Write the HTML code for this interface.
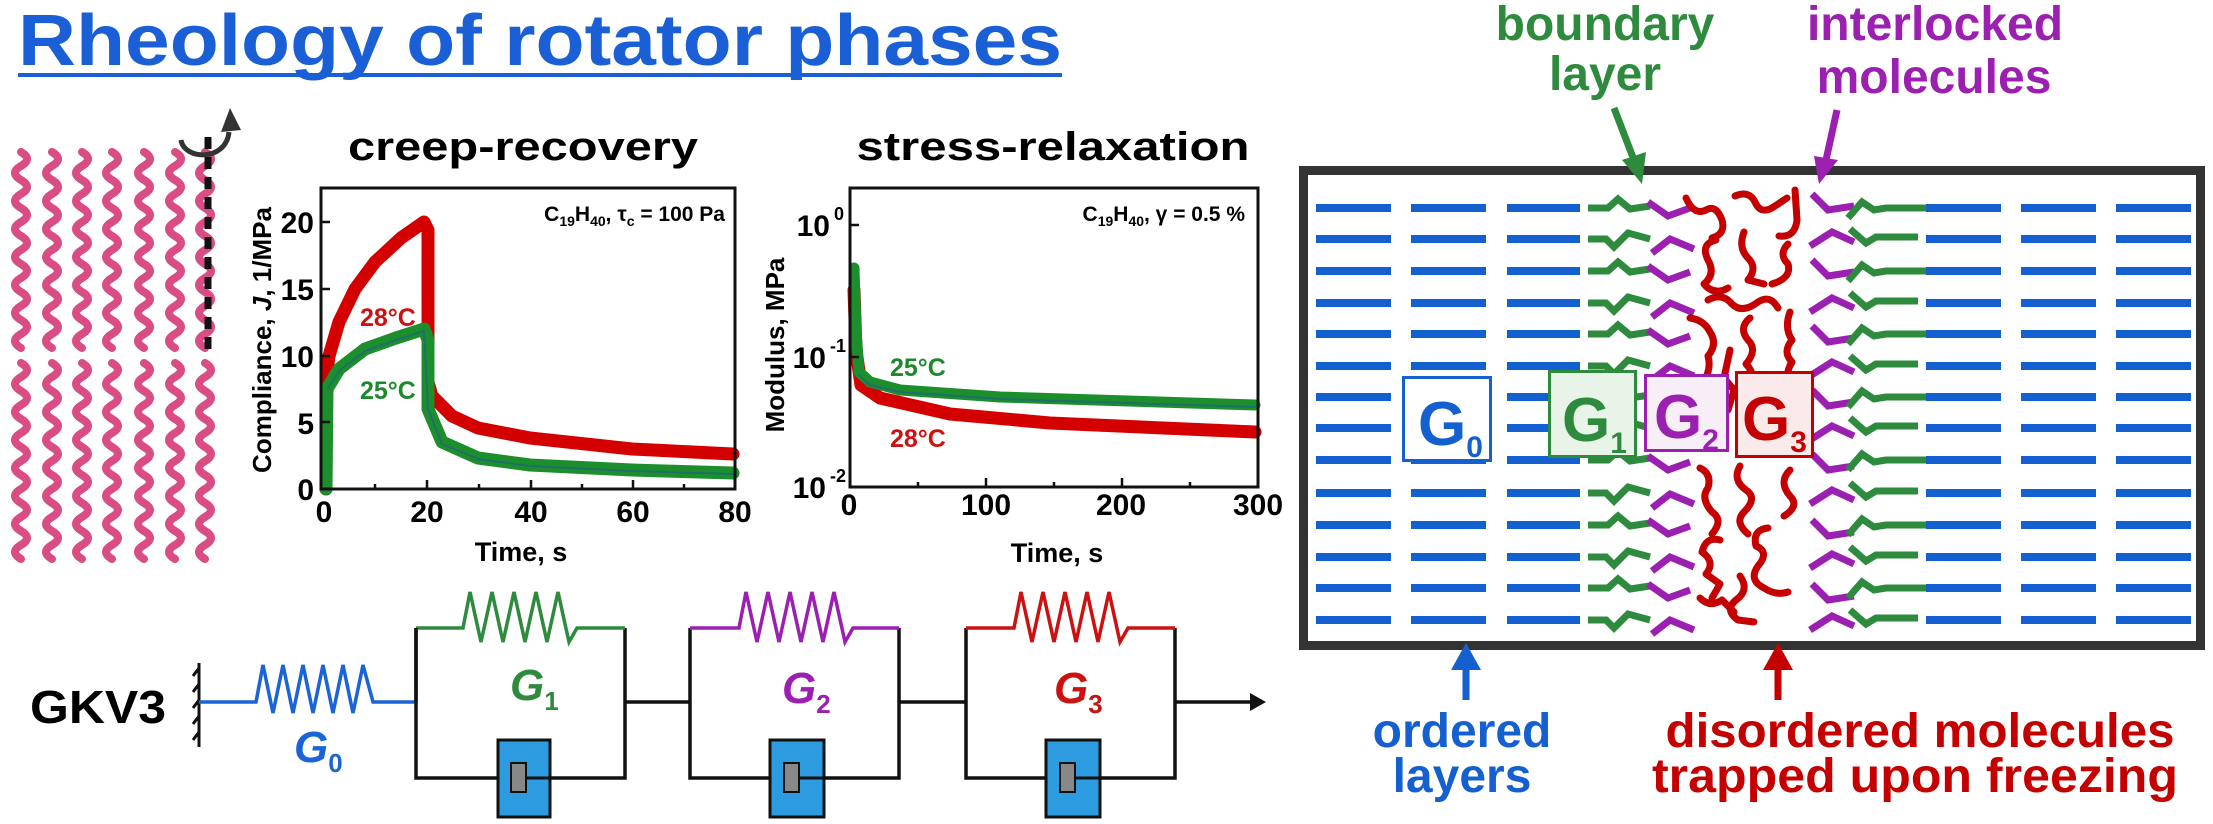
<!DOCTYPE html>
<html><head><meta charset="utf-8"><style>
html,body{margin:0;padding:0;background:#fff;}
svg{display:block;font-family:"Liberation Sans",Arial,sans-serif;}
</style></head><body>
<svg width="2213" height="824" viewBox="0 0 2213 824" xmlns="http://www.w3.org/2000/svg">
<defs>
 <path id="wave" d="M0,0 q12,7 0,14 t0,14 t0,14 t0,14 t0,14 t0,14 t0,14 t0,14 t0,14 t0,14 t0,14 t0,14 t0,14 t0,14" fill="none" stroke="#d94d84" stroke-width="8" stroke-linecap="round"/>
 <path id="gA" d="M1588,0 h20 l10,-9 l12,10 l20,-3" fill="none" stroke="#2e8b3e" stroke-width="7"/>
 <path id="gB" d="M1588,0 h18 l8,8 l14,-14 l22,6" fill="none" stroke="#2e8b3e" stroke-width="7"/>
 <path id="pA" d="M1648,-12 l20,14 l22,-8" fill="none" stroke="#9b1fb0" stroke-width="7"/>
 <path id="pB" d="M1652,8 l18,-14 l24,10" fill="none" stroke="#9b1fb0" stroke-width="7"/>
 <path id="rpA" d="M1812,-10 l16,16 l26,-4" fill="none" stroke="#9b1fb0" stroke-width="7"/>
 <path id="rpB" d="M1810,6 l22,-14 l22,10" fill="none" stroke="#9b1fb0" stroke-width="7"/>
 <path id="rgA" d="M1848,10 l14,-16 l12,8 l12,-2 h40" fill="none" stroke="#2e8b3e" stroke-width="7"/>
 <path id="rgB" d="M1850,-10 l16,14 l10,-6 h42" fill="none" stroke="#2e8b3e" stroke-width="7"/>
 <g id="dashL" stroke="#1560d0" stroke-width="8"><line x1="1316" y1="0" x2="1391" y2="0"/><line x1="1411" y1="0" x2="1486" y2="0"/><line x1="1507" y1="0" x2="1580" y2="0"/></g>
 <g id="dashR" stroke="#1560d0" stroke-width="8"><line x1="1926" y1="0" x2="2001" y2="0"/><line x1="2021" y1="0" x2="2096" y2="0"/><line x1="2116" y1="0" x2="2191" y2="0"/></g>
</defs>

<!-- Title -->
<text x="18" y="65" font-size="72" font-weight="bold" fill="#1a5fd6" textLength="1044" lengthAdjust="spacingAndGlyphs">Rheology of rotator phases</text>
<rect x="18" y="73" width="1044" height="4" fill="#1a5fd6"/>

<!-- pink chains -->
<g>
 <use href="#wave" x="21" y="152"/><use href="#wave" x="52" y="152"/><use href="#wave" x="82" y="152"/><use href="#wave" x="112" y="152"/><use href="#wave" x="144" y="152"/><use href="#wave" x="175" y="152"/><use href="#wave" x="205" y="152"/>
 <use href="#wave" x="21" y="363"/><use href="#wave" x="52" y="363"/><use href="#wave" x="82" y="363"/><use href="#wave" x="112" y="363"/><use href="#wave" x="144" y="363"/><use href="#wave" x="175" y="363"/><use href="#wave" x="205" y="363"/>
</g>
<line x1="208" y1="137" x2="208" y2="357" stroke="#111" stroke-width="7" stroke-dasharray="12,8"/>
<path d="M181,140 C184,160 226,162 229,132" fill="none" stroke="#333" stroke-width="5"/>
<polygon points="221,132 241,130 230,108" fill="#333"/>

<!-- creep-recovery plot -->
<text x="523" y="160" font-size="40" font-weight="bold" text-anchor="middle" textLength="350" lengthAdjust="spacingAndGlyphs">creep-recovery</text>
<g fill="none" stroke-linecap="round" stroke-linejoin="round">
 <path d="M326,489 L326,382 L329,356 L339,322 L355,289 L375,262 L401,238 L424,222 L428,230 L428,382 L432,396 L452,416 L478,428 L530,438 L632,449 L733,454" stroke="#d40000" stroke-width="13"/>
 <path d="M326,489 L327,389 L339,369 L365,349 L396,338 L424,329 L428,340 L428,409 L442,442 L478,458 L530,465 L632,470 L733,473" stroke="#1c8f2c" stroke-width="13"/>
 <path d="M328,389 L339,371 L365,351 L396,340 L424,331 L428,409 L442,444 L478,459 L530,466 L632,471 L733,474" stroke="#1d6f6a" stroke-width="2"/>
</g>
<rect x="321" y="188" width="414" height="301" fill="none" stroke="#111" stroke-width="3"/>
<g stroke="#111" stroke-width="2.5">
 <line x1="427" y1="489" x2="427" y2="480"/><line x1="531" y1="489" x2="531" y2="480"/><line x1="633" y1="489" x2="633" y2="480"/>
 <line x1="375" y1="489" x2="375" y2="484"/><line x1="479" y1="489" x2="479" y2="484"/><line x1="582" y1="489" x2="582" y2="484"/><line x1="684" y1="489" x2="684" y2="484"/>
 <line x1="321" y1="222" x2="330" y2="222"/><line x1="321" y1="289" x2="330" y2="289"/><line x1="321" y1="356" x2="330" y2="356"/><line x1="321" y1="422" x2="330" y2="422"/>
</g>
<g font-size="30" font-weight="bold" text-anchor="end">
 <text x="314" y="233">20</text><text x="314" y="300">15</text><text x="314" y="367">10</text><text x="314" y="434">5</text><text x="314" y="500">0</text>
</g>
<g font-size="30" font-weight="bold" text-anchor="middle">
 <text x="324" y="522">0</text><text x="427" y="522">20</text><text x="531" y="522">40</text><text x="633" y="522">60</text><text x="735" y="522">80</text>
</g>
<text x="521" y="561" font-size="27" font-weight="bold" text-anchor="middle">Time, s</text>
<text transform="translate(271,340) rotate(-90)" font-size="26" font-weight="bold" text-anchor="middle">Compliance, <tspan font-style="italic">J</tspan>, 1/MPa</text>
<text x="725" y="221" font-size="21" font-weight="bold" text-anchor="end">C<tspan font-size="14" dy="5">19</tspan><tspan dy="-5">H</tspan><tspan font-size="14" dy="5">40</tspan><tspan dy="-5">, τ</tspan><tspan font-size="14" dy="5">c</tspan><tspan dy="-5"> = 100 Pa</tspan></text>
<text x="360" y="326" font-size="25" font-weight="bold" fill="#cc1111">28°C</text>
<text x="360" y="399" font-size="25" font-weight="bold" fill="#1c8a2c">25°C</text>

<!-- stress-relaxation plot -->
<text x="1053" y="160" font-size="40" font-weight="bold" text-anchor="middle" textLength="393" lengthAdjust="spacingAndGlyphs">stress-relaxation</text>
<g fill="none" stroke-linecap="round" stroke-linejoin="round">
 <path d="M854,290 L856,350 L861,385 L880,398 L950,414 L1050,423 L1255,432" stroke="#d40000" stroke-width="13"/>
 <path d="M854,268 L856,330 L859,372 L870,382 L900,390 L1000,397 L1255,405" stroke="#1c8f2c" stroke-width="11"/>
 <path d="M859,375 L870,385 L900,392 L1000,399 L1255,407" stroke="#1d6f6a" stroke-width="2"/>
</g>
<rect x="850" y="188" width="408" height="299" fill="none" stroke="#111" stroke-width="3"/>
<g stroke="#111" stroke-width="2.5">
 <line x1="986" y1="487" x2="986" y2="478"/><line x1="1122" y1="487" x2="1122" y2="478"/>
 <line x1="918" y1="487" x2="918" y2="482"/><line x1="1054" y1="487" x2="1054" y2="482"/><line x1="1190" y1="487" x2="1190" y2="482"/>
 <line x1="850" y1="225" x2="859" y2="225"/><line x1="850" y1="357" x2="859" y2="357"/>
</g>
<g font-size="30" font-weight="bold" text-anchor="end">
 <text x="830" y="236">10</text><text x="844" y="220" font-size="18">0</text>
 <text x="826" y="368">10</text><text x="846" y="352" font-size="18">-1</text>
 <text x="826" y="498">10</text><text x="846" y="482" font-size="18">-2</text>
</g>
<g font-size="30" font-weight="bold" text-anchor="middle">
 <text x="849" y="515">0</text><text x="986" y="515">100</text><text x="1121" y="515">200</text><text x="1258" y="515">300</text>
</g>
<text x="1057" y="562" font-size="27" font-weight="bold" text-anchor="middle">Time, s</text>
<text transform="translate(784,345) rotate(-90)" font-size="26" font-weight="bold" text-anchor="middle">Modulus, MPa</text>
<text x="1245" y="221" font-size="21" font-weight="bold" text-anchor="end">C<tspan font-size="14" dy="5">19</tspan><tspan dy="-5">H</tspan><tspan font-size="14" dy="5">40</tspan><tspan dy="-5">, γ = 0.5 %</tspan></text>
<text x="890" y="376" font-size="25" font-weight="bold" fill="#1c8a2c">25°C</text>
<text x="890" y="447" font-size="25" font-weight="bold" fill="#cc1111">28°C</text>

<!-- circuit -->
<text x="30" y="723" font-size="46" font-weight="bold" textLength="136" lengthAdjust="spacingAndGlyphs">GKV3</text>
<g stroke="#111" stroke-width="3" fill="none">
 <line x1="199" y1="663" x2="199" y2="747"/>
 <path d="M199,668 l-6,8 M199,684 l-6,8 M199,700 l-6,8 M199,716 l-6,8 M199,732 l-6,8"/>
</g>
<path d="M199,702 H256 L263,665 L273,713 L283,665 L293,713 L303,665 L313,713 L323,665 L333,713 L343,665 L353,713 L363,665 L373,702 H416" fill="none" stroke="#1a64d8" stroke-width="3.5"/>
<text x="294" y="762" font-size="44" font-weight="bold" font-style="italic" fill="#1a64d8">G<tspan font-size="26" dy="10" font-style="normal">0</tspan></text>

<g fill="none" stroke-width="3.5">
 <!-- box1 -->
 <path d="M416,628 V778 H625 V628" stroke="#111"/>
 <path d="M416,628 H463 L470,592 L481,642 L492,592 L503,642 L514,592 L525,642 L536,592 L547,642 L558,592 L569,642 L577,628 H625" stroke="#2e8b3e"/>
 <!-- box2 -->
 <path d="M690,628 V778 H899 V628" stroke="#111"/>
 <path d="M690,628 H739 L746,592 L757,642 L768,592 L779,642 L790,592 L801,642 L812,592 L823,642 L834,592 L845,642 L853,628 H899" stroke="#9b1fb0"/>
 <!-- box3 -->
 <path d="M966,628 V778 H1175 V628" stroke="#111"/>
 <path d="M966,628 H1014 L1021,592 L1032,642 L1043,592 L1054,642 L1065,592 L1076,642 L1087,592 L1098,642 L1109,592 L1120,642 L1128,628 H1175" stroke="#cc1111"/>
 <path d="M416,702 V628 M625,702 H690 M899,702 H966 M1175,702 H1252" stroke="#111"/>
</g>
<polygon points="1250,693 1266,702 1250,711" fill="#111"/>
<g>
 <rect x="498" y="740" width="52" height="77" fill="#2c9be0" stroke="#111" stroke-width="3"/>
 <rect x="511" y="763" width="15" height="29" fill="#888" stroke="#111" stroke-width="2"/>
 <line x1="526" y1="778" x2="550" y2="778" stroke="#111" stroke-width="3"/>
 <rect x="770" y="740" width="54" height="77" fill="#2c9be0" stroke="#111" stroke-width="3"/>
 <rect x="784" y="763" width="15" height="29" fill="#888" stroke="#111" stroke-width="2"/>
 <line x1="799" y1="778" x2="824" y2="778" stroke="#111" stroke-width="3"/>
 <rect x="1046" y="740" width="54" height="77" fill="#2c9be0" stroke="#111" stroke-width="3"/>
 <rect x="1060" y="763" width="15" height="29" fill="#888" stroke="#111" stroke-width="2"/>
 <line x1="1075" y1="778" x2="1100" y2="778" stroke="#111" stroke-width="3"/>
</g>
<text x="510" y="700" font-size="44" font-weight="bold" font-style="italic" fill="#2e8b3e">G<tspan font-size="26" dy="10" font-style="normal">1</tspan></text>
<text x="782" y="703" font-size="44" font-weight="bold" font-style="italic" fill="#9b1fb0">G<tspan font-size="26" dy="10" font-style="normal">2</tspan></text>
<text x="1054" y="703" font-size="44" font-weight="bold" font-style="italic" fill="#cc1111">G<tspan font-size="26" dy="10" font-style="normal">3</tspan></text>

<!-- right diagram -->
<g>
 <use href="#dashL" y="208"/><use href="#dashL" y="239"/><use href="#dashL" y="271"/><use href="#dashL" y="303"/><use href="#dashL" y="334"/><use href="#dashL" y="366"/><use href="#dashL" y="397"/><use href="#dashL" y="428"/><use href="#dashL" y="460"/><use href="#dashL" y="493"/><use href="#dashL" y="525"/><use href="#dashL" y="557"/><use href="#dashL" y="588"/><use href="#dashL" y="620"/>
 <use href="#dashR" y="208"/><use href="#dashR" y="239"/><use href="#dashR" y="271"/><use href="#dashR" y="303"/><use href="#dashR" y="334"/><use href="#dashR" y="366"/><use href="#dashR" y="397"/><use href="#dashR" y="428"/><use href="#dashR" y="460"/><use href="#dashR" y="493"/><use href="#dashR" y="525"/><use href="#dashR" y="557"/><use href="#dashR" y="588"/><use href="#dashR" y="620"/>
 <use href="#gA" y="208"/><use href="#gB" y="239"/><use href="#gA" y="271"/><use href="#gB" y="303"/><use href="#gA" y="334"/><use href="#gB" y="366"/><use href="#gA" y="397"/><use href="#gB" y="428"/><use href="#gA" y="460"/><use href="#gB" y="493"/><use href="#gA" y="525"/><use href="#gB" y="557"/><use href="#gA" y="588"/><use href="#gB" y="620"/>
 <use href="#pA" y="214"/><use href="#pB" y="245"/><use href="#pA" y="278"/><use href="#pB" y="309"/><use href="#pA" y="342"/><use href="#pB" y="372"/><use href="#pA" y="404"/><use href="#pB" y="436"/><use href="#pA" y="468"/><use href="#pB" y="500"/><use href="#pA" y="532"/><use href="#pB" y="563"/><use href="#pA" y="596"/><use href="#pB" y="626"/>
 <use href="#rpA" y="204"/><use href="#rpB" y="240"/><use href="#rpA" y="270"/><use href="#rpB" y="306"/><use href="#rpA" y="336"/><use href="#rpB" y="370"/><use href="#rpA" y="400"/><use href="#rpB" y="434"/><use href="#rpA" y="464"/><use href="#rpB" y="498"/><use href="#rpA" y="530"/><use href="#rpB" y="562"/><use href="#rpA" y="594"/><use href="#rpB" y="624"/>
 <use href="#rgA" y="208"/><use href="#rgB" y="239"/><use href="#rgA" y="271"/><use href="#rgB" y="303"/><use href="#rgA" y="334"/><use href="#rgB" y="366"/><use href="#rgA" y="397"/><use href="#rgB" y="428"/><use href="#rgA" y="460"/><use href="#rgB" y="493"/><use href="#rgA" y="525"/><use href="#rgB" y="557"/><use href="#rgA" y="588"/><use href="#rgB" y="620"/>
</g>
<g fill="none" stroke="#c40000" stroke-width="7" stroke-linecap="round" stroke-linejoin="round">
 <path d="M1686,198 q8,18 20,12 q10,-6 16,10 q4,14 -10,18"/>
 <path d="M1735,196 q14,-6 20,6 q6,14 20,4 l12,-8"/>
 <path d="M1795,190 l2,30 q-2,18 -18,16"/>
 <path d="M1716,240 q-16,4 -8,20 q8,14 -4,24 q10,12 24,4"/>
 <path d="M1744,232 q-6,16 4,26 q10,10 0,22 l16,4"/>
 <path d="M1788,244 q-10,10 0,20 q4,14 -16,20"/>
 <path d="M1708,300 q14,-8 24,4 q10,10 26,-2 q12,-8 20,6"/>
 <path d="M1690,318 q14,2 20,14 q8,12 -2,24 q4,14 -6,28"/>
 <path d="M1750,318 q-12,10 -2,22 q10,10 -2,24 q10,10 4,22"/>
 <path d="M1790,312 q-6,16 2,28 q-10,12 0,22 q-8,12 -2,28"/>
 <path d="M1730,350 l-6,28 l10,12 l-6,20"/>
 <path d="M1700,468 q12,6 8,20 q-8,10 4,24 q12,8 0,22"/>
 <path d="M1740,466 q-8,14 6,24 q12,8 -2,22 q-10,10 4,22"/>
 <path d="M1790,470 q-12,12 0,26 q10,10 -6,20"/>
 <path d="M1720,540 q-14,-4 -18,12 q14,10 4,22 l14,10 l-8,14"/>
 <path d="M1768,528 q-16,2 -12,18 q14,6 2,20 q-10,14 6,22 q12,8 24,4"/>
 <path d="M1740,576 q10,14 -4,24 q-12,10 2,20 l16,2"/>
 <path d="M1700,598 q10,10 22,2 l12,12"/>
</g>
<rect x="1403.5" y="377.5" width="87" height="83" fill="#fff" stroke="#1560d0" stroke-width="3"/>
<text x="1418" y="445" font-size="62" font-weight="bold" fill="#1560d0">G<tspan font-size="30" dy="12">0</tspan></text>
<rect x="1549.5" y="371.5" width="86" height="85" fill="#e9f4e9" stroke="#2e8b3e" stroke-width="3"/>
<text x="1562" y="441" font-size="62" font-weight="bold" fill="#2e8b3e">G<tspan font-size="30" dy="12">1</tspan></text>
<rect x="1645.5" y="375.5" width="82" height="75" fill="#f8eef8" stroke="#9b1fb0" stroke-width="3"/>
<text x="1654" y="438" font-size="62" font-weight="bold" fill="#9b1fb0">G<tspan font-size="30" dy="12">2</tspan></text>
<rect x="1736.5" y="372.5" width="76" height="84" fill="#fbeaea" stroke="#c40000" stroke-width="3"/>
<text x="1742" y="440" font-size="62" font-weight="bold" fill="#c40000">G<tspan font-size="30" dy="12">3</tspan></text>

<rect x="1303.5" y="170.5" width="897" height="475" fill="none" stroke="#333" stroke-width="9"/>

<!-- right labels -->
<text x="1605" y="40" font-size="48" font-weight="bold" fill="#2e8b3e" text-anchor="middle">boundary</text>
<text x="1605" y="90" font-size="48" font-weight="bold" fill="#2e8b3e" text-anchor="middle">layer</text>
<line x1="1614" y1="108" x2="1634" y2="160" stroke="#2e8b3e" stroke-width="7"/>
<polygon points="1622,160 1646,152 1642,184" fill="#2e8b3e"/>
<text x="1935" y="40" font-size="48" font-weight="bold" fill="#9b1fb0" text-anchor="middle">interlocked</text>
<text x="1934" y="93" font-size="48" font-weight="bold" fill="#9b1fb0" text-anchor="middle">molecules</text>
<line x1="1837" y1="110" x2="1826" y2="160" stroke="#9b1fb0" stroke-width="7"/>
<polygon points="1814,156 1838,160 1819,184" fill="#9b1fb0"/>

<line x1="1466" y1="700" x2="1466" y2="668" stroke="#1560d0" stroke-width="7"/>
<polygon points="1451,670 1481,670 1466,643" fill="#1560d0"/>
<line x1="1778" y1="700" x2="1778" y2="668" stroke="#c40000" stroke-width="7"/>
<polygon points="1763,670 1793,670 1778,643" fill="#c40000"/>
<text x="1462" y="747" font-size="48" font-weight="bold" fill="#1560d0" text-anchor="middle">ordered</text>
<text x="1462" y="792" font-size="48" font-weight="bold" fill="#1560d0" text-anchor="middle">layers</text>
<text x="1920" y="747" font-size="48" font-weight="bold" fill="#c40000" text-anchor="middle" textLength="509" lengthAdjust="spacingAndGlyphs">disordered molecules</text>
<text x="1915" y="792" font-size="48" font-weight="bold" fill="#c40000" text-anchor="middle" textLength="526" lengthAdjust="spacingAndGlyphs">trapped upon freezing</text>
</svg>
</body></html>
